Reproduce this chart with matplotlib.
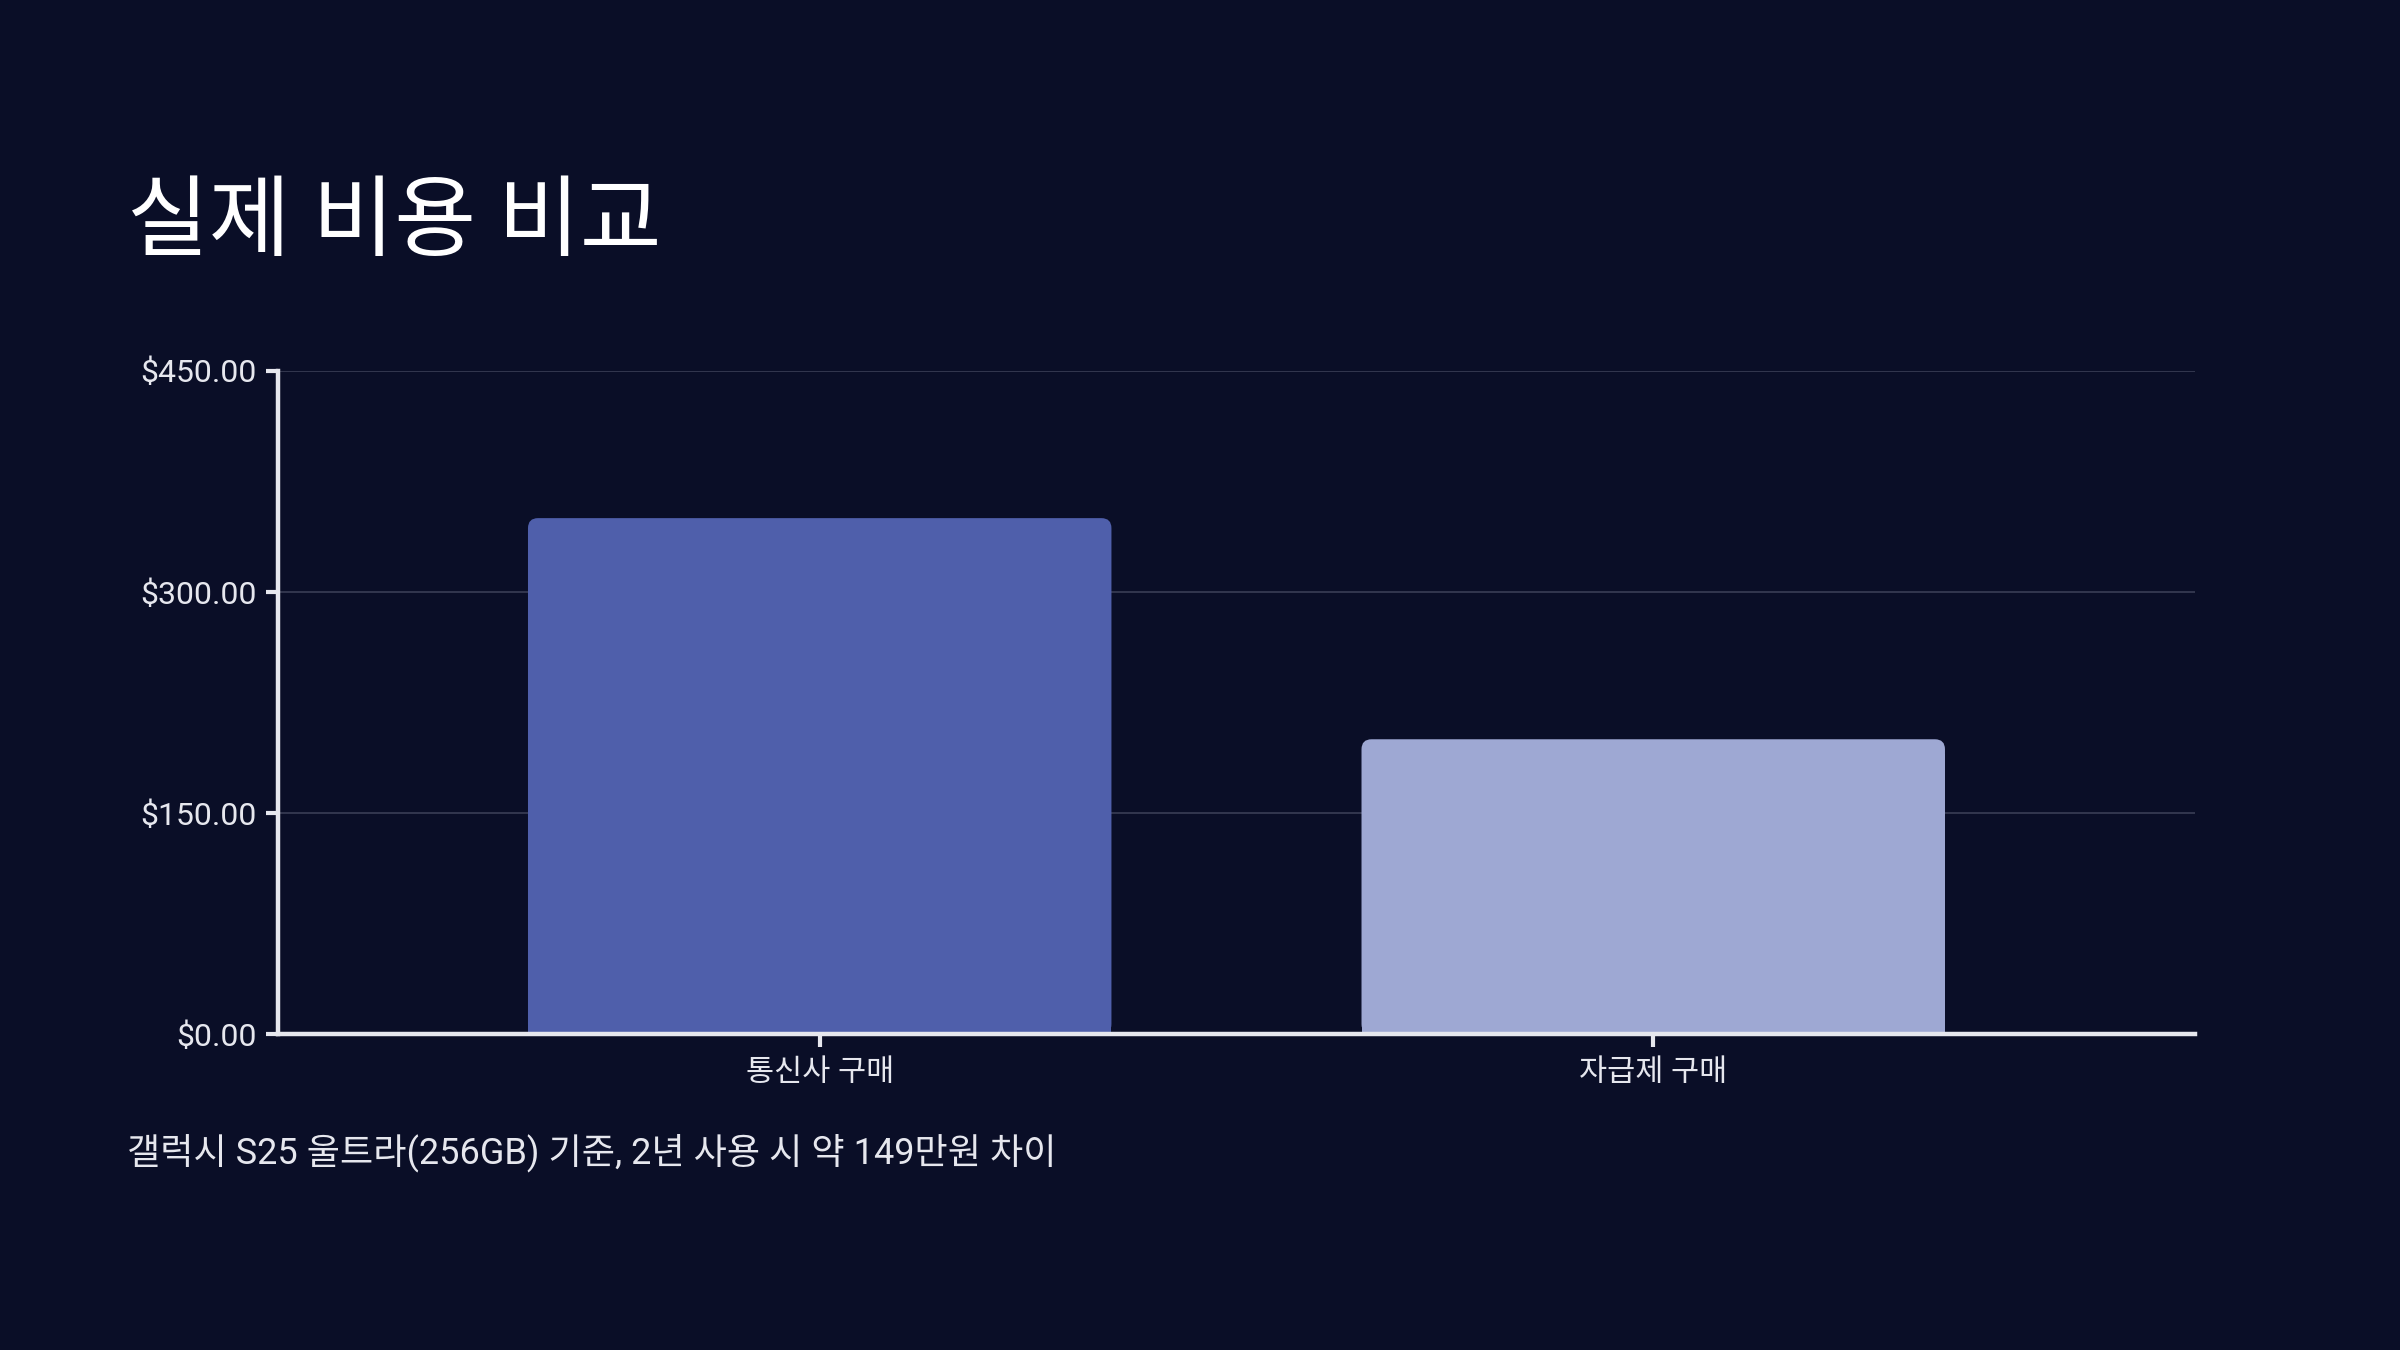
import numpy as np
import matplotlib
matplotlib.use("Agg")
import matplotlib.pyplot as plt
from matplotlib.patches import FancyBboxPatch, Rectangle
from matplotlib.ticker import FuncFormatter

# data
categories = ['통신사 구매', '자급제 구매']
costs = [350, 200]
bar_colors = ['#4f5fab', '#9ea8d3']
y_ticks = [0, 150, 300, 450]

title = '실제 비용 비교'
note = '갤럭시 S25 울트라(256GB) 기준, 2년 사용 시 약 149만원 차이'

bg = '#0a0e27'
fg = '#e6e7ee'
grid_c = '#393d55'

plt.rcParams['font.family'] = ['Roboto', 'Noto Sans CJK KR', 'DejaVu Sans']

fig = plt.figure(figsize=(24, 13.5), dpi=100, facecolor=bg)
ax = fig.add_axes([0.1158, 0.234, 0.7988, 0.4914])
ax.set_facecolor(bg)

x = np.arange(len(categories))
bars = ax.bar(x, costs, width=0.7, color=bar_colors, zorder=2)
ax.set_xlim(-0.65, 1.65)
ax.set_ylim(0, 450)

# rounded top corners: swap plain bars for rounded patches
fig.canvas.draw()
p0 = ax.transData.transform((0, 0))
p1 = ax.transData.transform((1, 1))
ux = 1 / (p1[0] - p0[0])   # data per pixel, x
uy = 1 / (p1[1] - p0[1])   # data per pixel, y
r_px = 10
for b in bars:
    bx, bw, bh = b.get_x(), b.get_width(), b.get_height()
    c = b.get_facecolor()
    b.set_visible(False)
    ax.add_patch(FancyBboxPatch((bx, 0), bw, bh,
                                boxstyle=f'round,pad=0,rounding_size={r_px * ux}',
                                mutation_aspect=uy / ux, fc=c, ec='none', zorder=2))
    ax.add_patch(Rectangle((bx, 0), bw, bh - r_px * uy * 1.5, fc=c, ec='none', zorder=2))

ax.set_yticks(y_ticks)
ax.yaxis.set_major_formatter(FuncFormatter(lambda v, p: f'${v:,.2f}'))
ax.set_xticks(x)
ax.set_xticklabels(categories)

ax.grid(axis='y', color=grid_c, linewidth=1.2, zorder=0)
for s in ['top', 'right']:
    ax.spines[s].set_visible(False)
for s in ['left', 'bottom']:
    ax.spines[s].set_color(fg)
    ax.spines[s].set_linewidth(3.2)
    ax.spines[s].set_zorder(3)

ax.tick_params(axis='both', colors=fg, length=9, width=3, labelsize=23, pad=6)
ax.tick_params(axis='x', labelsize=22, pad=8)

fig.text(0.053, 0.834, title, color='white', fontsize=64, va='center', ha='left')
fig.text(0.053, 0.146, note, color=fg, fontsize=26, va='center', ha='left')

fig.savefig('out.png', dpi=100, facecolor=bg)
